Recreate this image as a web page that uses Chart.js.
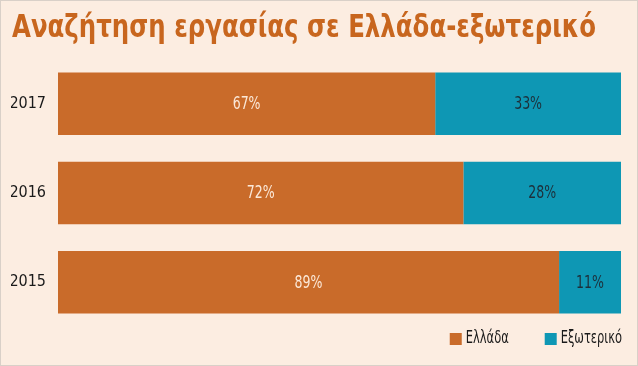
<!DOCTYPE html>
<html>
<head>
<meta charset="utf-8">
<script src="https://cdn.jsdelivr.net/npm/chart.js@4/dist/chart.umd.min.js"></script>
<style>
  html, body { margin: 0; padding: 0; background: #fcede1; }
  #wrap { width: 638px; height: 366px; position: relative; box-sizing: border-box; border: 1px solid #d9d0c8; }
</style>
</head>
<body>
<div id="wrap"><canvas id="jobChart"></canvas></div>
<script>
const years = ['2017', '2016', '2015'];
const greece = [67, 72, 89];   // Ελλάδα
const abroad = [33, 28, 11];   // Εξωτερικό
const seriesNames = ['Ελλάδα', 'Εξωτερικό'];
const titleText = 'Αναζήτηση εργασίας σε Ελλάδα-εξωτερικό';

const narrow = "'DejaVu Sans Condensed', sans-serif";
const squeeze = 0.82; // the original font is narrower than anything installed

// title drawn by hand so it can be squeezed to the original width
const headline = {
  id: 'headline',
  afterDraw(chart) {
    const ctx = chart.ctx;
    ctx.save();
    ctx.font = 'bold 32px ' + narrow;
    ctx.textBaseline = 'alphabetic';
    const w = ctx.measureText(titleText).width;
    const sx = Math.min(1, 584 / w);
    ctx.translate(11, 36);
    ctx.scale(sx, 1);
    ctx.fillStyle = '#c8661e';
    ctx.fillText(titleText, 0, 0);
    ctx.restore();
  }
};

// percent labels in the middle of every bar piece
const barLabels = {
  id: 'barLabels',
  afterDatasetsDraw(chart) {
    const ctx = chart.ctx;
    const colours = ['#fbe8d8', '#1d2f3a'];
    ctx.save();
    ctx.font = '17px ' + narrow;
    ctx.textAlign = 'center';
    ctx.textBaseline = 'middle';
    chart.data.datasets.forEach((ds, i) => {
      chart.getDatasetMeta(i).data.forEach((bar, j) => {
        const p = bar.getCenterPoint();
        ctx.save();
        ctx.translate(p.x, p.y + 1);
        ctx.scale(squeeze, 1);
        ctx.fillStyle = colours[i];
        ctx.fillText(ds.data[j] + '%', 0, 0);
        ctx.restore();
      });
    });
    ctx.restore();
  }
};

// legend under the bars, right aligned, wider gap than the built-in one
const sideLegend = {
  id: 'sideLegend',
  afterDraw(chart) {
    const ctx = chart.ctx;
    const area = chart.chartArea;
    const y = area.bottom + 12;
    const sx = 0.75;
    ctx.save();
    ctx.font = '17px ' + narrow;
    ctx.textBaseline = 'middle';
    let x = area.right + 1;
    const items = chart.data.datasets.slice().reverse();
    items.forEach(ds => {
      const w = ctx.measureText(ds.label).width * sx;
      x -= w;
      ctx.save();
      ctx.translate(x, y);
      ctx.scale(sx, 1);
      ctx.fillStyle = '#1a1a1a';
      ctx.fillText(ds.label, 0, 0);
      ctx.restore();
      x -= 16;
      ctx.fillStyle = ds.backgroundColor;
      ctx.fillRect(x, y - 6, 12, 12);
      x -= 36;
    });
    ctx.restore();
  }
};

const ctx = document.getElementById('jobChart').getContext('2d');
new Chart(ctx, {
  type: 'bar',
  data: {
    labels: years,
    datasets: [{
      label: seriesNames[0],
      data: greece,
      backgroundColor: '#c96b2a',
      categoryPercentage: 0.7,
      barPercentage: 1
    }, {
      label: seriesNames[1],
      data: abroad,
      backgroundColor: '#0e97b4',
      categoryPercentage: 0.7,
      barPercentage: 1
    }]
  },
  options: {
    indexAxis: 'y',
    responsive: true,
    maintainAspectRatio: false,
    animation: false,
    layout: { padding: { left: 10, right: 16, top: 58, bottom: 38 } },
    scales: {
      x: { stacked: true, min: 0, max: 100, display: false },
      y: {
        stacked: true,
        grid: { display: false },
        border: { display: false },
        ticks: { color: '#1a1a1a', font: { family: narrow, size: 16 }, padding: 4 },
        afterFit(scale) { scale.width = 47; }
      }
    },
    plugins: {
      title: { display: false },
      legend: { display: false },
      tooltip: { enabled: false }
    }
  },
  plugins: [barLabels, sideLegend, headline]
});
</script>
</body>
</html>
